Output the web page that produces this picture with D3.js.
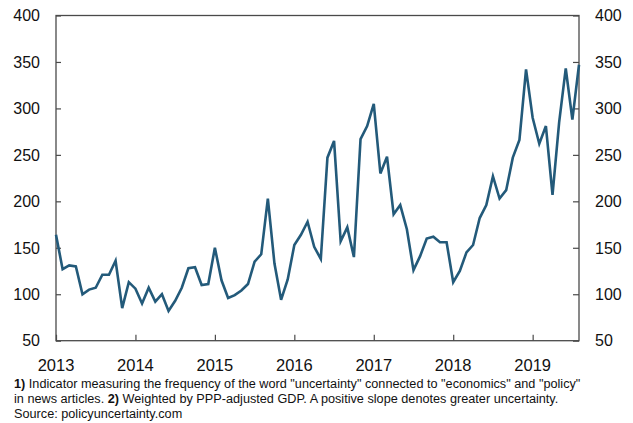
<!DOCTYPE html>
<html>
<head>
<meta charset="utf-8">
<script src="https://cdn.jsdelivr.net/npm/d3@7"></script>
<style>
  body { margin: 0; background: #fff; }
  text { font-family: "Liberation Sans", Arial, Helvetica, sans-serif; fill: #111; }
</style>
</head>
<body>
<script>
// monthly index, Jan 2013 - Aug 2019
var startYear = 2013;
var values2013 = [164, 127, 131, 130, 100, 105, 107, 121, 121, 136, 85, 113];
var values2014 = [106, 90, 107, 92, 100, 82, 93, 107, 128, 129, 110, 111];
var values2015 = [150, 115, 96, 99, 104, 111, 135, 143, 203, 133, 94, 116];
var values2016 = [153, 164, 178, 151, 138, 247, 265, 157, 172, 140, 267, 281];
var values2017 = [305, 230, 248, 186, 196, 170, 126, 141, 160, 162, 156, 156];
var values2018 = [113, 125, 145, 153, 182, 196, 227, 203, 212, 247, 266, 342];
var values2019 = [290, 262, 281, 207, 285, 343, 288, 347];

var yearTicks = [2013, 2014, 2015, 2016, 2017, 2018, 2019];
var yTicks = [50, 100, 150, 200, 250, 300, 350, 400];

var footLines = [
    [{b: true, t: "1)"}, {b: false, t: " Indicator measuring the frequency of the word \"uncertainty\" connected to \"economics\" and \"policy\""}],
    [{b: false, t: "in news articles. "}, {b: true, t: "2)"}, {b: false, t: " Weighted by PPP-adjusted GDP. A positive slope denotes greater uncertainty."}],
    [{b: false, t: "Source: policyuncertainty.com"}]
];

var series = [].concat(values2013, values2014, values2015, values2016, values2017, values2018, values2019);
var data = series.map(function(v, i) {
    return {t: startYear + i / 12, v: v};
});

var width = 633, height = 423;
var plot = {left: 56, right: 579, top: 15.5, bottom: 340.7};

var svg = d3.select("body").append("svg")
    .attr("width", width)
    .attr("height", height);

var x = d3.scaleLinear()
    .domain([startYear, d3.max(data, function(d) { return d.t; })])
    .range([plot.left, plot.right]);
var y = d3.scaleLinear()
    .domain([50, 400])
    .range([plot.bottom, plot.top]);

var frameColor = "#4a4a4a";

// axes, ticks pointing inwards
svg.append("g")
    .attr("transform", "translate(" + plot.left + ",0)")
    .call(d3.axisRight(y).tickValues(yTicks).tickSize(5).tickFormat(""))
    .call(function(g) { g.select(".domain").remove(); })
    .selectAll("line").attr("stroke", frameColor).attr("stroke-width", 1.2);

svg.append("g")
    .attr("transform", "translate(" + plot.right + ",0)")
    .call(d3.axisLeft(y).tickValues(yTicks).tickSize(6).tickFormat(""))
    .call(function(g) { g.select(".domain").remove(); })
    .selectAll("line").attr("stroke", frameColor).attr("stroke-width", 1.2);

svg.append("g")
    .attr("transform", "translate(0," + plot.bottom + ")")
    .call(d3.axisTop(x).tickValues(yearTicks).tickSize(6).tickFormat(""))
    .call(function(g) { g.select(".domain").remove(); })
    .selectAll("line").attr("stroke", frameColor).attr("stroke-width", 1.2);

// frame
svg.append("rect")
    .attr("x", plot.left)
    .attr("y", plot.top)
    .attr("width", plot.right - plot.left)
    .attr("height", plot.bottom - plot.top)
    .attr("fill", "none")
    .attr("stroke", frameColor)
    .attr("stroke-width", 1.3);

// tick labels
svg.selectAll(".ylabL").data(yTicks).enter().append("text")
    .attr("x", 40)
    .attr("y", function(d) { return y(d); })
    .attr("dy", "0.36em")
    .attr("text-anchor", "end")
    .style("font-size", "16px")
    .text(function(d) { return d; });

svg.selectAll(".ylabR").data(yTicks).enter().append("text")
    .attr("x", 595)
    .attr("y", function(d) { return y(d); })
    .attr("dy", "0.36em")
    .style("font-size", "16px")
    .text(function(d) { return d; });

svg.selectAll(".xlab").data(yearTicks).enter().append("text")
    .attr("x", function(d) { return x(d); })
    .attr("y", 371)
    .attr("text-anchor", "middle")
    .style("font-size", "16.5px")
    .text(function(d) { return d; });

// the series
var line = d3.line()
    .x(function(d) { return x(d.t); })
    .y(function(d) { return y(d.v); });

svg.append("path")
    .datum(data)
    .attr("d", line)
    .attr("fill", "none")
    .attr("stroke", "#235a7a")
    .attr("stroke-width", 2.6)
    .attr("stroke-linejoin", "miter");

// footnotes (reference font is a bit narrower, so squeeze horizontally)
var footBase = [388, 403.5, 418.5];
var foot = svg.append("g")
    .attr("transform", "translate(14,0) scale(0.94,1)");
footLines.forEach(function(parts, i) {
    var t = foot.append("text")
        .attr("x", 0)
        .attr("y", footBase[i])
        .style("font-size", "13.5px");
    parts.forEach(function(p) {
        t.append("tspan")
            .style("font-weight", p.b ? "bold" : "normal")
            .text(p.t);
    });
});
</script>
</body>
</html>
